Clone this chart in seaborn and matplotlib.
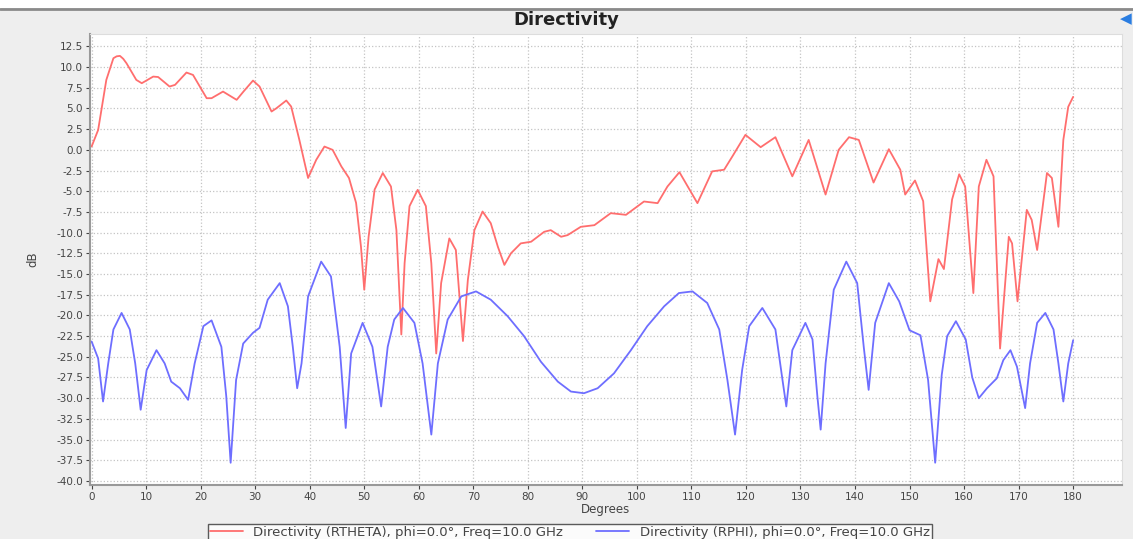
import seaborn as sns
import matplotlib.pyplot as plt
from matplotlib.patches import Rectangle
from matplotlib.lines import Line2D

# Directivity pattern (degrees, dB)
theta_deg = [0, 1.2, 2.7, 4.0, 4.6, 5.2, 5.8, 6.4, 8.2, 9.2, 11.3, 12.2, 14.3, 15.3,
             17.4, 18.6, 21.1, 22.0, 24.1, 26.6, 27.8, 29.6, 30.8, 33.0, 33.9, 35.7,
             36.6, 38.1, 39.7, 41.2, 42.7, 44.2, 45.8, 47.2, 48.5, 49.4, 50.0, 50.8,
             51.9, 53.4, 54.9, 55.9, 56.8, 57.4, 58.3, 59.8, 61.3, 62.3, 63.2, 64.1,
             65.6, 66.8, 68.1, 69.0, 70.2, 71.7, 73.2, 74.5, 75.7, 76.9, 78.7, 80.6,
             83.0, 84.2, 86.1, 87.3, 89.7, 92.2, 95.2, 98.0, 101.3, 103.8, 105.6,
             107.8, 111.1, 113.8, 116.0, 117.5, 119.9, 122.7, 125.4, 128.5, 131.5,
             134.6, 137.0, 138.9, 140.7, 143.4, 146.2, 148.3, 149.2, 151.0, 152.5,
             153.8, 155.3, 156.3, 157.8, 159.1, 160.2, 161.7, 162.7, 164.1, 165.4,
             166.6, 168.2, 168.8, 169.8, 171.5, 172.4, 173.4, 175.2, 176.1, 177.3,
             178.2, 179.1, 180.0]
theta_db = [0.4, 2.4, 8.45, 11.07, 11.3, 11.35, 11.0, 10.46, 8.45, 8.05, 8.85, 8.8,
            7.65, 7.85, 9.34, 9.05, 6.24, 6.24, 7.04, 6.04, 7.0, 8.37, 7.65, 4.63,
            5.03, 5.96, 5.23, 1.2, -3.4, -1.2, 0.4, 0.0, -2.0, -3.4, -6.4, -11.7,
            -16.9, -10.5, -4.8, -2.8, -4.43, -9.7, -22.3, -13.7, -6.8, -4.83, -6.8,
            -13.7, -24.6, -16.1, -10.7, -12.1, -23.1, -15.7, -9.7, -7.45, -8.86,
            -11.7, -13.9, -12.5, -11.3, -11.1, -9.9, -9.7, -10.5, -10.3, -9.3, -9.1,
            -7.65, -7.85, -6.24, -6.44, -4.43, -2.7, -6.44, -2.6, -2.4, -0.8, 1.81,
            0.32, 1.53, -3.2, 1.2, -5.4, 0.0, 1.53, 1.2, -3.95, 0.08, -2.4, -5.4,
            -3.7, -6.2, -18.3, -13.2, -14.4, -6.0, -2.95, -4.43, -17.3, -4.43, -1.2,
            -3.2, -24.0, -10.5, -11.3, -18.3, -7.25, -8.46, -12.1, -2.8, -3.4, -9.3,
            1.2, 5.2, 6.4]

phi_deg = [0, 1.2, 2.1, 3.05, 4.0, 5.5, 7.0, 8.0, 9.0, 10.1, 11.9, 13.4, 14.6, 16.2,
           17.7, 18.9, 20.5, 22.0, 23.8, 24.7, 25.5, 26.5, 27.8, 29.6, 30.8, 32.3,
           34.5, 36.0, 36.9, 37.7, 38.5, 39.7, 42.1, 43.9, 45.5, 46.6, 47.6, 49.7,
           51.5, 53.1, 54.3, 55.5, 57.1, 59.2, 60.7, 62.3, 63.5, 65.3, 67.8, 70.5,
           73.2, 76.3, 79.3, 82.4, 85.5, 87.9, 90.3, 92.8, 95.8, 98.9, 101.9, 105.0,
           107.7, 110.2, 112.9, 115.1, 116.6, 118.0, 119.3, 120.6, 123.0, 125.4,
           126.7, 127.4, 128.5, 130.9, 132.2, 133.1, 133.7, 134.6, 136.1, 138.4,
           140.4, 141.6, 142.5, 143.7, 146.2, 148.1, 150.0, 152.0, 153.4, 154.7,
           155.9, 156.9, 158.5, 160.3, 161.5, 162.7, 164.2, 166.0, 167.2, 168.5,
           169.7, 171.2, 172.1, 173.4, 174.9, 176.4, 177.3, 178.2, 179.1, 180.0]
phi_db = [-23.15, -25.2, -30.4, -25.8, -21.7, -19.7, -21.7, -25.8, -31.4, -26.6,
          -24.2, -25.8, -28.0, -28.8, -30.2, -25.8, -21.3, -20.6, -23.8, -29.8, -37.8,
          -27.8, -23.4, -22.1, -21.5, -18.1, -16.1, -18.9, -23.8, -28.8, -25.8, -17.7,
          -13.5, -15.3, -23.8, -33.6, -24.6, -20.9, -23.8, -31.0, -23.8, -20.5, -19.1,
          -20.9, -25.8, -34.4, -25.8, -20.5, -17.7, -17.1, -18.1, -20.1, -22.5, -25.6,
          -28.0, -29.2, -29.4, -28.8, -27.0, -24.2, -21.3, -18.9, -17.3, -17.1, -18.5,
          -21.7, -27.8, -34.4, -26.6, -21.3, -19.1, -21.7, -27.8, -31.0, -24.2, -20.9,
          -22.9, -29.8, -33.8, -25.8, -16.9, -13.5, -16.1, -23.8, -29.0, -20.9, -16.1,
          -18.3, -21.8, -22.4, -27.8, -37.8, -27.2, -22.5, -20.7, -22.9, -27.5, -30.0,
          -28.8, -27.6, -25.4, -24.2, -26.2, -31.2, -25.8, -20.9, -19.7, -21.7, -25.8,
          -30.4, -25.8, -23.0]

theta_label = 'Directivity (RTHETA), phi=0.0°, Freq=10.0 GHz'
phi_label = 'Directivity (RPHI), phi=0.0°, Freq=10.0 GHz'
y_ticks = [12.5 - 2.5 * i for i in range(22)]
x_ticks = list(range(0, 181, 10))

sns.set_style('whitegrid', {'grid.linestyle': ':', 'grid.color': '#c4c4c4'})
fig = plt.figure(figsize=(11.33, 5.39), dpi=100)
fig.patch.set_facecolor('#eeeeee')
ax = fig.add_axes([0.0794, 0.100, 0.9106, 0.837])

sns.lineplot(x=theta_deg, y=theta_db, ax=ax, color='#ff6e6e', lw=1.3,
             estimator=None, sort=False, label=theta_label)
sns.lineplot(x=phi_deg, y=phi_db, ax=ax, color='#6e6eff', lw=1.3,
             estimator=None, sort=False, label=phi_label)

ax.set_xlim(-0.3, 188.9)
ax.set_ylim(-40.5, 14.0)
ax.set_xticks(x_ticks)
ax.set_yticks(y_ticks)
ax.set_yticklabels([f'{v:.1f}' for v in y_ticks])
ax.tick_params(labelsize=7.5, colors='#444444', length=3, width=0.8, pad=2)
ax.tick_params(axis='both', which='both', direction='out', left=True, bottom=True)
ax.grid(True, linestyle=':', color='#c4c4c4', lw=0.9)
for side in ['top', 'right']:
    ax.spines[side].set_color('#dddddd')
for side in ['left', 'bottom']:
    ax.spines[side].set_color('#999999')
    ax.spines[side].set_linewidth(1.5)
ax.set_xlabel('Degrees', fontsize=8.5, color='#444444', labelpad=1)
ax.set_ylabel('dB', fontsize=8.5, color='#444444', labelpad=12)

handles, labels = ax.get_legend_handles_labels()
ax.legend_.remove()
leg = fig.legend(handles, labels, loc='upper center', bbox_to_anchor=(0.503, 0.040),
                 ncol=2, fontsize=9.5, frameon=True, fancybox=False, borderpad=0.15,
                 handlelength=2.5, columnspacing=2.5, edgecolor='#333333')
leg.get_frame().set_linewidth(1.0)
for t in leg.get_texts():
    t.set_color('#444444')

fig.text(0.5, 0.962, 'Directivity', ha='center', va='center', fontsize=13,
         fontweight='bold', color='#222222')
fig.add_artist(Rectangle((0, 0.985), 1, 0.015, transform=fig.transFigure,
                         facecolor='white', edgecolor='none'))
fig.add_artist(Line2D([0, 1], [0.984, 0.984], transform=fig.transFigure,
                      color='#8a8a8a', lw=2))
fig.text(0.994, 0.966, '◀', ha='center', va='center', fontsize=11, color='#2a7de1')

fig.savefig('out.png', dpi=100, facecolor=fig.get_facecolor())
